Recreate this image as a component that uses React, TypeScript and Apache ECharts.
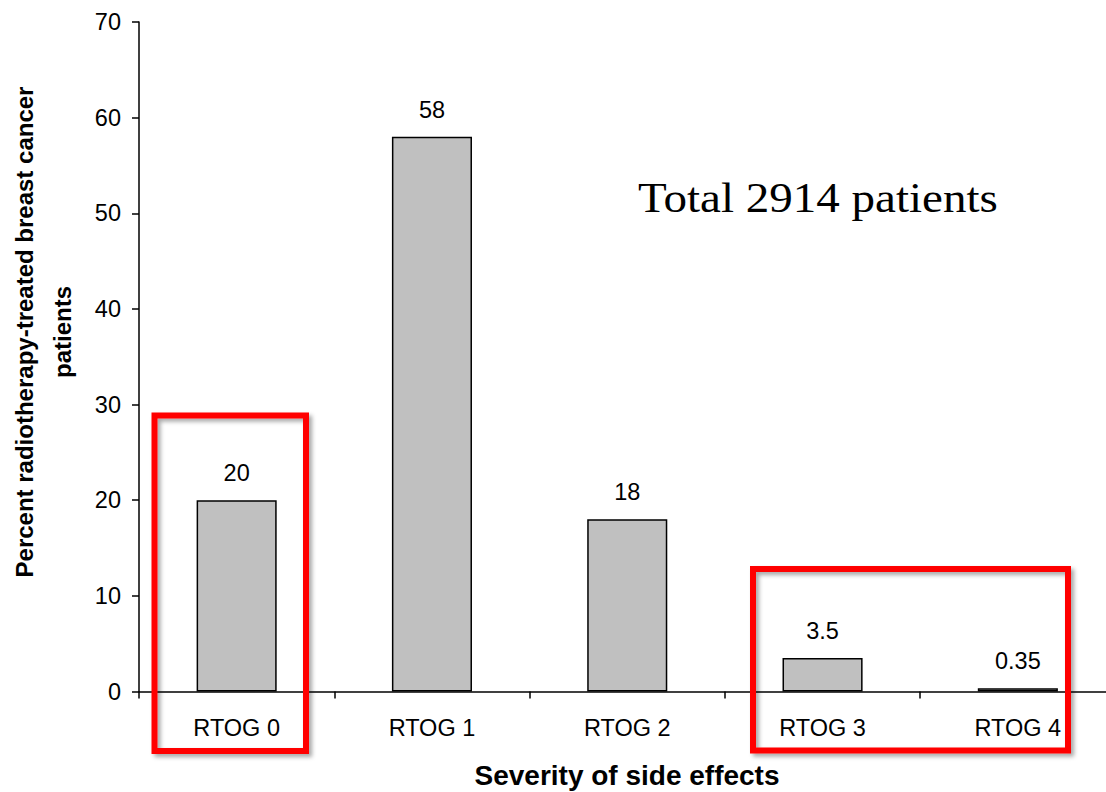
import React, { useEffect, useRef } from "react";
import * as echarts from "echarts";

// Share of radiotherapy-treated breast cancer patients by RTOG side-effect grade
const categories = ["RTOG 0", "RTOG 1", "RTOG 2", "RTOG 3", "RTOG 4"];
const percentValues = [20, 58, 18, 3.5, 0.35];
const yMin = 0;
const yMax = 70;
const yStep = 10;

const xTitle = "Severity of side effects";
const yTitle = "Percent radiotherapy-treated breast cancer\npatients";
const noteText = "Total 2914 patients";

const SANS = "'Liberation Sans', Arial, sans-serif";
const SERIF = "'Liberation Serif', 'Times New Roman', serif";

// The plot runs past the right edge of the visible frame, so the canvas is wider than its clip.
const VIEW_W = 1106;
const VIEW_H = 792;
const CANVAS_W = 1130;

export default function App() {
  const ref = useRef<HTMLDivElement>(null);

  useEffect(() => {
    if (!ref.current) return;
    const chart = echarts.init(ref.current, undefined, { renderer: "svg" });

    const highlightBox = (x1: number, y1: number, x2: number, y2: number) => ({
      type: "rect",
      z: 100,
      shape: { x: x1, y: y1, width: x2 - x1, height: y2 - y1 },
      style: {
        fill: "none",
        stroke: "#ff0000",
        lineWidth: 6,
        shadowColor: "rgba(0,0,0,0.35)",
        shadowBlur: 4,
        shadowOffsetX: 3,
        shadowOffsetY: 3,
      },
    });

    chart.setOption({
      animation: false,
      backgroundColor: "#ffffff",
      grid: { left: 139, width: 976.5, top: 22, bottom: 100.5, containLabel: false },
      xAxis: {
        type: "category",
        data: categories,
        boundaryGap: true,
        axisLine: { show: true, lineStyle: { color: "#000", width: 1.5 } },
        axisTick: {
          show: true,
          alignWithLabel: false,
          inside: false,
          length: 7,
          lineStyle: { color: "#000", width: 1.5 },
        },
        axisLabel: {
          color: "#000",
          fontFamily: SANS,
          fontSize: 23.5,
          margin: 24,
        },
        splitLine: { show: false },
      },
      yAxis: {
        type: "value",
        min: yMin,
        max: yMax,
        interval: yStep,
        axisLine: { show: true, lineStyle: { color: "#000", width: 1.5 } },
        axisTick: { show: true, inside: false, length: 7, lineStyle: { color: "#000", width: 1.5 } },
        axisLabel: {
          color: "#000",
          fontFamily: SANS,
          fontSize: 23.5,
          margin: 18,
        },
        splitLine: { show: false },
      },
      series: [
        {
          type: "bar",
          data: percentValues,
          barWidth: "41%",
          itemStyle: { color: "#c0c0c0", borderColor: "#000", borderWidth: 1.5 },
          label: {
            show: true,
            position: "top",
            distance: 15,
            color: "#000",
            fontFamily: SANS,
            fontSize: 23.5,
          },
        },
      ],
      graphic: [
        {
          type: "text",
          x: 43.5,
          y: 332,
          rotation: Math.PI / 2,
          style: {
            text: yTitle,
            fontFamily: SANS,
            fontWeight: "bold",
            fontSize: 24,
            lineHeight: 38,
            fill: "#000",
            textAlign: "center",
            textVerticalAlign: "middle",
          },
        },
        {
          type: "text",
          x: 627,
          y: 775,
          style: {
            text: xTitle,
            fontFamily: SANS,
            fontWeight: "bold",
            fontSize: 28,
            fill: "#000",
            textAlign: "center",
            textVerticalAlign: "middle",
          },
        },
        {
          type: "text",
          x: 638,
          y: 198,
          scaleX: 1.12,
          style: {
            text: noteText,
            fontFamily: SERIF,
            fontSize: 42,
            fill: "#000",
            textAlign: "left",
            textVerticalAlign: "middle",
          },
        },
        highlightBox(154.5, 415.5, 306, 751),
        highlightBox(753, 569, 1068, 750.5),
      ],
    });

    return () => chart.dispose();
  }, []);

  return (
    <div
      style={{
        position: "absolute",
        left: 0,
        top: 0,
        width: VIEW_W,
        height: VIEW_H,
        overflow: "hidden",
        background: "#fff",
      }}
    >
      <div ref={ref} style={{ width: CANVAS_W, height: VIEW_H }} />
    </div>
  );
}
